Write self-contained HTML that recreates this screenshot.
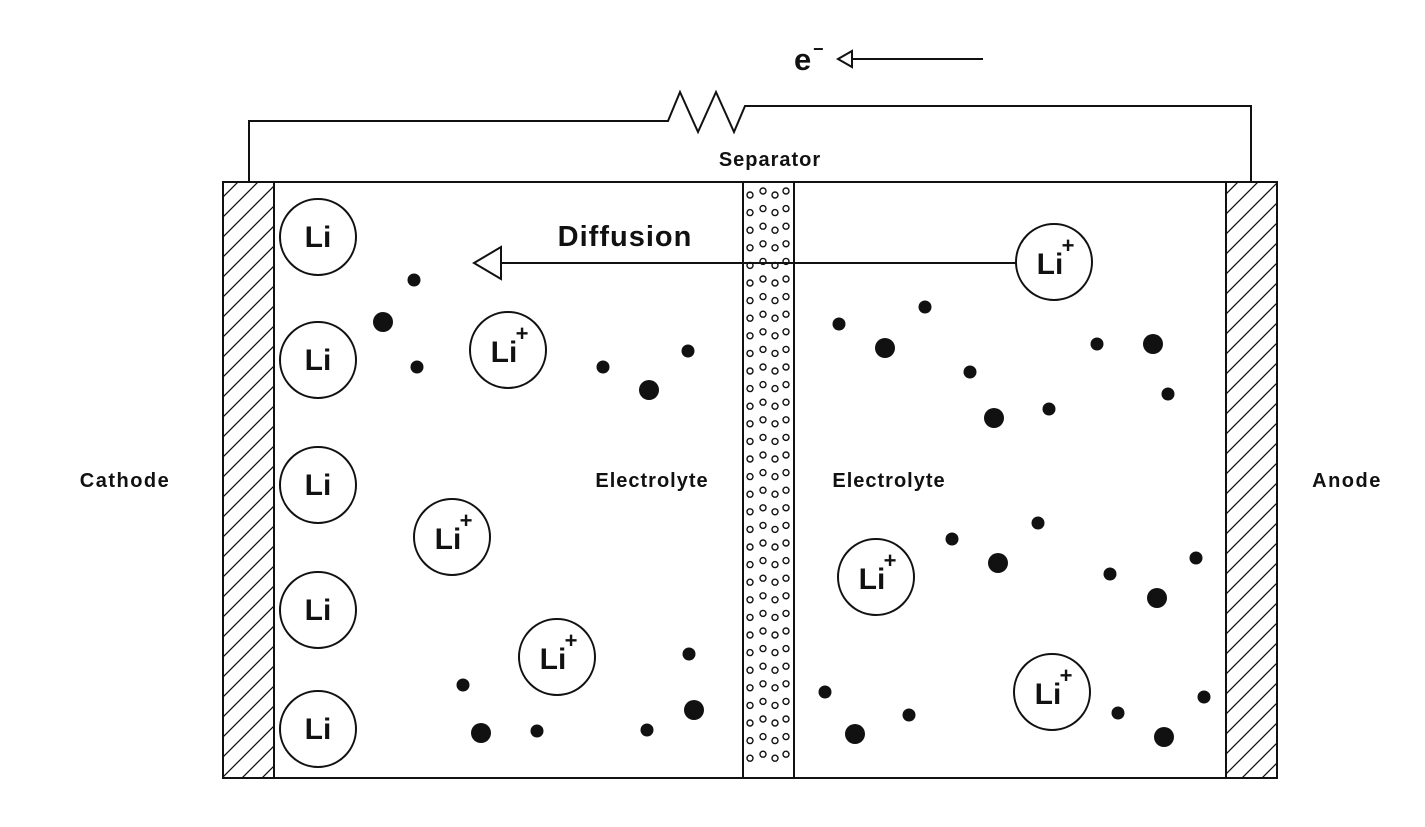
<!DOCTYPE html>
<html><head><meta charset="utf-8"><style>
html,body{margin:0;padding:0;background:#fff;}
svg{display:block;}
text{font-family:"Liberation Sans",Arial,sans-serif;font-weight:bold;fill:#111;}
</style></head><body>
<svg id="d" width="1425" height="827" viewBox="0 0 1425 827" xmlns="http://www.w3.org/2000/svg">
<defs>
<pattern id="hatch" patternUnits="userSpaceOnUse" width="20" height="20">
<path d="M-5,25 L25,-5 M-5,5 L5,-5 M15,25 L25,15" stroke="#111" stroke-width="1.3"/>
</pattern>
</defs>
<g fill="none" stroke="#111" stroke-width="2">
<polyline points="249,182 249,121 668,121 680,92 698,132 716,92 734,132 745,106 1251,106 1251,182"/>
</g>
<text x="794" y="70" font-size="31">e</text>
<text x="813" y="55" font-size="18">−</text>
<g stroke="#111" stroke-width="2" fill="#fff">
<line x1="853" y1="59" x2="983" y2="59"/>
<polygon points="838,59 852,51 852,67"/>
</g>
<text x="770" y="166" font-size="20" letter-spacing="1" text-anchor="middle">Separator</text>
<rect x="274" y="182" width="952" height="596" fill="#fff" stroke="#111" stroke-width="2"/>
<rect x="223" y="182" width="51" height="596" fill="url(#hatch)" stroke="#111" stroke-width="2"/>
<rect x="1226" y="182" width="51" height="596" fill="url(#hatch)" stroke="#111" stroke-width="2"/>
<rect x="743" y="182" width="51" height="596" fill="#fff" stroke="#111" stroke-width="2"/>
<g id="pores" fill="none" stroke="#111" stroke-width="1.4"></g>
<text x="125" y="487" font-size="20" letter-spacing="1.5" text-anchor="middle">Cathode</text>
<text x="1347" y="487" font-size="20" letter-spacing="1.5" text-anchor="middle">Anode</text>
<text x="652" y="487" font-size="20" letter-spacing="1" text-anchor="middle">Electrolyte</text>
<text x="889" y="487" font-size="20" letter-spacing="1" text-anchor="middle">Electrolyte</text>
<text x="625" y="246" font-size="29" letter-spacing="1" text-anchor="middle">Diffusion</text>
<g stroke="#111" stroke-width="2" fill="#fff">
<line x1="501" y1="263" x2="1016" y2="263"/>
<polygon points="474,263 501,247 501,279"/>
</g>
<g id="particles"></g>
</svg>
<script>
const liAtoms = [[318,237],[318,360],[318,485],[318,610],[318,729]];
const liIons = [[508,350],[452,537],[557,657],[1054,262],[876,577],[1052,692]];
const smallDots = [[414,280],[417,367],[603,367],[688,351],[463,685],[537,731],[647,730],[689,654],[839,324],[925,307],[970,372],[1049,409],[1097,344],[1168,394],[952,539],[1038,523],[1110,574],[1196,558],[825,692],[909,715],[1118,713],[1204,697]];
const largeDots = [[383,322],[649,390],[481,733],[694,710],[885,348],[994,418],[1153,344],[998,563],[1157,598],[855,734],[1164,737]];
const NS='http://www.w3.org/2000/svg';
const pg=document.getElementById('particles');
function mk(t,a,p){const e=document.createElementNS(NS,t);for(const k in a)e.setAttribute(k,a[k]);p.appendChild(e);return e;}
const pores=document.getElementById('pores');
const cols=[[750,0],[763,-4],[775,0],[786,-4]];
for(let y=195;y<772;y+=17.6){for(const c of cols){mk('circle',{cx:c[0],cy:(y+c[1]).toFixed(1),r:3},pores);}}
liAtoms.forEach(p=>{
  const g=mk('g',{},pg);
  
  
  mk('circle',{cx:p[0],cy:p[1],r:38,fill:'#fff',stroke:'#111','stroke-width':2},g);
  const t=mk('text',{x:p[0],y:p[1]+10,'font-size':30,'text-anchor':'middle'},g);t.textContent='Li';
});
liIons.forEach(p=>{
  const g=mk('g',{},pg);
  
  
  mk('circle',{cx:p[0],cy:p[1],r:38,fill:'#fff',stroke:'#111','stroke-width':2},g);
  const t=mk('text',{x:p[0]-4,y:p[1]+12,'font-size':30,'text-anchor':'middle'},g);t.textContent='Li';
  const s=mk('text',{x:p[0]+14,y:p[1]-9,'font-size':22,'text-anchor':'middle'},g);s.textContent='+';
});
smallDots.forEach(p=>{
  const c=mk('circle',{cx:p[0],cy:p[1],r:6.5,fill:'#111'},pg);
  
  
});
largeDots.forEach(p=>{
  const c=mk('circle',{cx:p[0],cy:p[1],r:10,fill:'#111'},pg);
  
  
});
</script>
</body></html>
